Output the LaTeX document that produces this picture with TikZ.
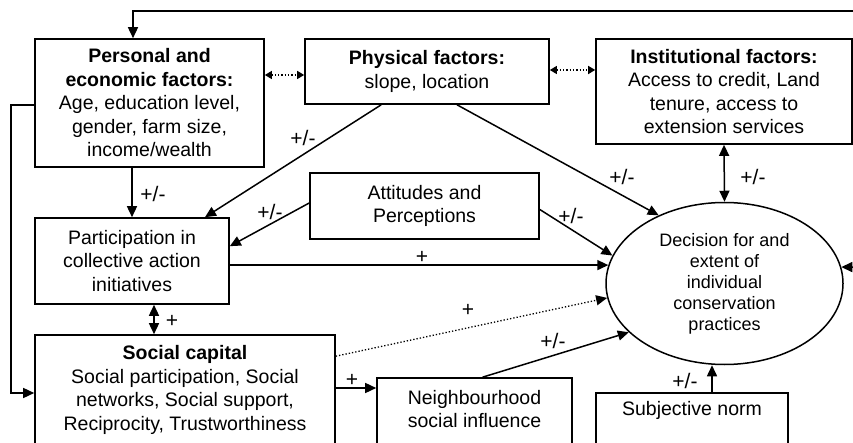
\documentclass[tikz,border=0pt]{standalone}
\usepackage{fontspec}
\setmainfont{Liberation Sans}
\usetikzlibrary{arrows.meta,calc,shapes.geometric}
\begin{document}
\begin{tikzpicture}[x=1pt,y=-1pt,
  box/.style={draw,line width=1.6pt,align=center,inner sep=0pt,font=\fontsize{19.5}{23.5}\selectfont},
  txt/.style={align=center,inner sep=0pt,font=\fontsize{19.5}{23.5}\selectfont},
  tipT/.tip={Triangle[length=11pt,width=10pt]},
  tipS/.tip={Triangle[length=7pt,width=8pt]},
  arr/.style={line width=1.5pt,-tipT},
  darr/.style={line width=1.5pt,tipT-tipT},
  dotarr/.style={line width=1.3pt,dotted,-tipT},
  dotdarr/.style={line width=1.3pt,dotted,tipS-tipS},
  lbl/.style={inner sep=0pt,font=\fontsize{21}{22}\selectfont}]
\useasboundingbox (0,0) rectangle (853,443);
\clip (0,0) rectangle (853,443);

% boxes
\node[box,minimum width=229pt,minimum height=128pt] (personal) at (149.5,103)
  {\textbf{Personal and}\\\textbf{economic factors:}\\Age, education level,\\gender, farm size,\\income/wealth};
\node[box,minimum width=244pt,minimum height=65pt] (physical) at (427,71.5)
  {\textbf{Physical factors:}\\slope, location};
\node[box,minimum width=256pt,minimum height=105pt] (inst) at (724,91.5)
  {\textbf{Institutional factors:}\\Access to credit, Land\\tenure, access to\\extension services};
\node[box,minimum width=229pt,minimum height=66pt] (attitudes) at (424.5,206)
  {Attitudes and\\Perceptions};
\node[box,minimum width=194pt,minimum height=86pt] (participation) at (132,261)
  {Participation in\\collective action\\initiatives};
\node[box,minimum width=300pt,minimum height=110pt] (social) at (185,390)
  {\textbf{Social capital}\\Social participation, Social\\networks, Social support,\\Reciprocity, Trustworthiness};
\node[box,minimum width=195pt,minimum height=68pt] (neigh) at (474.5,412) {};
\node[txt] (neightext) at (474.5,409) {Neighbourhood\\social influence};
\node[box,minimum width=192pt,minimum height=74pt] (subj) at (692,430) {};
\node[txt] (subjtext) at (692,410) {Subjective norm};
\node[draw,ellipse,line width=1.5pt,minimum width=237pt,minimum height=162pt,inner sep=0pt,
  align=center,font=\fontsize{18}{21}\selectfont] (ell) at (724.5,283.5)
  {Decision for and\\extent of\\individual\\conservation\\practices};

% feedback lines from outside the frame
\coordinate (fbtop) at (880,11);
\coordinate (fbright) at (880,267);
\draw[arr] (fbtop) -| ($(personal.north)+(-16.5,0)$);
\draw[arr] (fbright) -- (ell.8);
\draw[arr] ($(personal.west)+(0,2)$) -- ++(-23,0) |- ($(social.west)+(0,3)$);

% dotted links between top boxes
\draw[dotdarr] ($(personal.east)+(0,-28)$) coordinate (pp) -- (pp -| physical.west);
\draw[dotdarr] ($(physical.east)+(0,-1.5)$) coordinate (pi) -- (pi -| inst.west);

% into participation
\draw[arr] (personal.south -| participation.north) -- (participation.north);
\draw[arr] ($(physical.south west)+(77,0)$) -- ($(participation.north)+(73,0)$);
\draw[arr] ($(attitudes.west)+(0,-3)$) -- ($(participation.north east)+(0,29)$);

% into decision
\draw[arr] ($(physical.south)+(30,0)$) -- (ell.134);
\draw[darr] (inst.south) -- (ell.north);
\draw[arr] ($(attitudes.east)+(0,3.5)$) -- (ell.166);
\draw[arr] (participation.east |- ell.171) -- (ell.171);
\draw[dotarr] ($(social.north east)+(0,22)$) -- (ell.187);
\draw[arr] ($(neigh.north)+(8,0)$) -- (ell.207);
\draw[arr] ($(subj.north)+(20,0)$) coordinate (sa) -- (sa |- ell.south);

% social links
\draw[darr] ($(participation.south)+(22,0)$) coordinate (ps) -- (ps |- social.north);
\draw[arr] ($(social.east)+(0,-2)$) coordinate (se) -- (se -| neigh.west);

% labels
\node[lbl] (l1) at (153,194) {+/-};
\node[lbl] (l2) at (303,138) {+/-};
\node[lbl] (l3) at (270,212) {+/-};
\node[lbl] (l4) at (622,177) {+/-};
\node[lbl] (l5) at (753,177) {+/-};
\node[lbl] (l6) at (571,216) {+/-};
\node[lbl] (l7) at (422,257) {+};
\node[lbl] (l8) at (468,310) {+};
\node[lbl] (l9) at (553,341) {+/-};
\node[lbl] (l10) at (685,381) {+/-};
\node[lbl] (l11) at (172,321) {+};
\node[lbl] (l12) at (352,380) {+};
\end{tikzpicture}
\end{document}
